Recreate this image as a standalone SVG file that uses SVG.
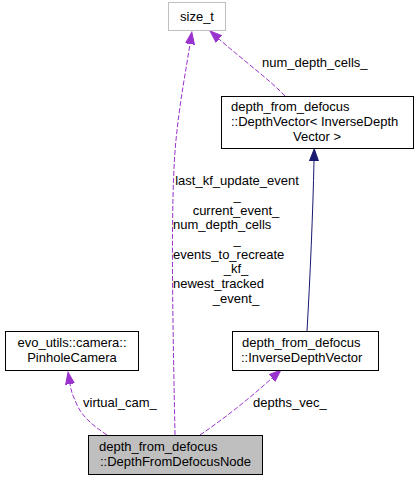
<svg xmlns="http://www.w3.org/2000/svg" width="419" height="481" viewBox="0 0 419 481">
<style>
text{font-family:"Liberation Sans",Arial,sans-serif;font-size:13px;fill:#000}
.box{fill:#fff;stroke:#000;stroke-width:1}
.grey{fill:#fff;stroke:#bfbfbf;stroke-width:1}
.cur{fill:#bfbfbf;stroke:#000;stroke-width:1}
.use{fill:none;stroke:#9a32cd;stroke-width:1;stroke-dasharray:5,2;marker-end:url(#pa)}
.inh{fill:none;stroke:#191970;stroke-width:1;marker-end:url(#ba)}
.m{text-anchor:middle}
</style>
<defs>
<marker id="pa" markerUnits="userSpaceOnUse" viewBox="0 -6 14 12" refX="0" refY="0" markerWidth="14" markerHeight="12" orient="auto">
<path d="M0,-4.5 L12,0 L0,4.5 z" fill="#9a32cd" stroke="#9a32cd"/>
</marker>
<marker id="ba" markerUnits="userSpaceOnUse" viewBox="0 -6 14 12" refX="0" refY="0" markerWidth="14" markerHeight="12" orient="auto">
<path d="M0,-4.5 L12,0 L0,4.5 z" fill="#191970" stroke="#191970"/>
</marker>
</defs>
<g id="connectors">
<path class="use" d="M175,435 C173,330 170,200 176,140 C180,100 186,70 190,44"/>
<path class="use" d="M285,96 C270,80 238,56 219,39"/>
<path class="inh" d="M307,331 C310,280 313,210 314,161"/>
<path class="use" d="M107,435 C92,425 80,415 75,400 C72,394 71,390 70,384"/>
<path class="use" d="M200,435 C222,420 248,400 272,378"/>
<text x="262" y="67">num_depth_cells_</text>
<text x="83" y="407">virtual_cam_</text>
<text x="253" y="407">depths_vec_</text>
<text x="237" y="185" class="m">last_kf_update_event</text>
<text x="237" y="200" class="m">_</text>
<text x="236" y="215" class="m">current_event_</text>
<text x="173" y="229">num_depth_cells</text>
<text x="237" y="244" class="m">_</text>
<text x="173" y="259">events_to_recreate</text>
<text x="236" y="273" class="m">_kf_</text>
<text x="173" y="288">newest_tracked</text>
<text x="236" y="303" class="m">_event_</text>
</g>
<g id="size_t">
<rect class="grey" x="168.5" y="2.5" width="57" height="28"/>
<text x="197" y="21" class="m">size_t</text>
</g>
<g id="DepthVector">
<rect class="box" x="221.5" y="96.5" width="192" height="52"/>
<text x="231" y="111">depth_from_defocus</text>
<text x="231" y="126">::DepthVector&lt; InverseDepth</text>
<text x="317" y="141" class="m">Vector &gt;</text>
</g>
<g id="PinholeCamera">
<rect class="box" x="5.5" y="331.5" width="133" height="39"/>
<text x="72" y="347" class="m">evo_utils::camera::</text>
<text x="72" y="362" class="m">PinholeCamera</text>
</g>
<g id="InverseDepthVector">
<rect class="box" x="232.5" y="331.5" width="146" height="39"/>
<text x="242" y="347">depth_from_defocus</text>
<text x="241" y="362">::InverseDepthVector</text>
</g>
<g id="DepthFromDefocusNode">
<rect class="cur" x="88.5" y="435.5" width="174" height="39"/>
<text x="99" y="451">depth_from_defocus</text>
<text x="100" y="466">::DepthFromDefocusNode</text>
</g>
</svg>
